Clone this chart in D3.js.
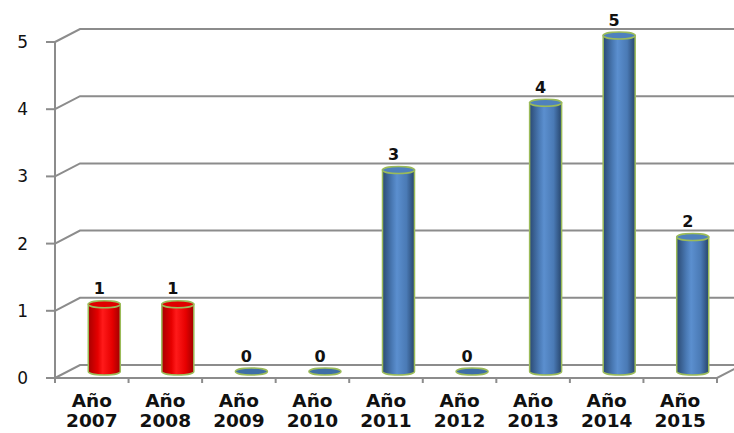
<!DOCTYPE html>
<html>
<head>
<meta charset="utf-8">
<script src="https://cdn.jsdelivr.net/npm/d3@7"></script>
<style>
  body { margin: 0; background: #fff; }
  .chart text { font-family: "DejaVu Sans", Verdana, sans-serif; }
</style>
</head>
<body>
<div class="chart"></div>
<script>
// datos
const anios = ["2007", "2008", "2009", "2010", "2011", "2012", "2013", "2014", "2015"];
const valores = [1, 1, 0, 0, 3, 0, 4, 5, 2];
const colores = ["rojo", "rojo", "azul", "azul", "azul", "azul", "azul", "azul", "azul"];
const ticksY = [0, 1, 2, 3, 4, 5];

const width = 734, height = 433;
const depthX = 25, depthY = -13;   // profundidad del efecto 3d
const rx = 16, ry = 3.5;

const svg = d3.select(".chart")
    .append("svg")
    .attr("width", width)
    .attr("height", height);

const x = d3.scaleBand().domain(anios).range([55, 717]).padding(0);
const y = d3.scaleLinear().domain([0, 5]).range([378, 42]);

// gradientes
const defs = svg.append("defs");
const grads = {
    azul: ["#2b4a73", "#4a7ab5", "#5b8fcf", "#4a7ab5", "#27456c"],
    rojo: ["#a80000", "#e60000", "#ff1a1a", "#e60000", "#a00000"]
};
Object.keys(grads).forEach(k => {
    const g = defs.append("linearGradient").attr("id", "g-" + k)
        .attr("x1", "0%").attr("x2", "100%").attr("y1", "0%").attr("y2", "0%");
    const offs = [0, 0.3, 0.45, 0.75, 1];
    grads[k].forEach((c, i) => g.append("stop").attr("offset", offs[i]).attr("stop-color", c));
});
const topFill = { azul: "#4f81bd", rojo: "#e00000" };

const gridColor = "#8c8c8c";

// rejilla del fondo
const grid = svg.append("g");
ticksY.forEach(t => {
    const yy = y(t);
    grid.append("path")
        .attr("d", `M55,${yy} L${55 + depthX},${yy + depthY} L${width + 10},${yy + depthY}`)
        .attr("fill", "none")
        .attr("stroke", gridColor)
        .attr("stroke-width", 2);
});

// suelo frontal y borde derecho
svg.append("path")
    .attr("d", `M55,${y(0)} L717,${y(0)} L${717 + depthX},${y(0) + depthY}`)
    .attr("fill", "none")
    .attr("stroke", gridColor)
    .attr("stroke-width", 2);

// eje vertical
svg.append("line")
    .attr("x1", 55).attr("x2", 55)
    .attr("y1", y(5)).attr("y2", y(0) + 5)
    .attr("stroke", gridColor).attr("stroke-width", 2);

svg.selectAll(".ytick").data(ticksY).enter()
    .append("line")
    .attr("x1", 46).attr("x2", 55)
    .attr("y1", d => y(d)).attr("y2", d => y(d))
    .attr("stroke", gridColor).attr("stroke-width", 2);

svg.selectAll(".ylab").data(ticksY).enter()
    .append("text")
    .attr("x", 28)
    .attr("y", d => y(d) + 6)
    .attr("text-anchor", "end")
    .attr("font-size", 17)
    .attr("fill", "#111")
    .text(d => d);

// ticks del eje x
const bordes = anios.map(a => x(a)).concat([717]);
svg.selectAll(".xtick").data(bordes.slice(1)).enter()
    .append("line")
    .attr("x1", d => d).attr("x2", d => d)
    .attr("y1", y(0)).attr("y2", y(0) + 5)
    .attr("stroke", gridColor).attr("stroke-width", 2);

// etiquetas x
const xl = svg.selectAll(".xlab").data(anios).enter()
    .append("text")
    .attr("text-anchor", "middle")
    .attr("font-size", 18.5)
    .attr("font-weight", "bold")
    .attr("fill", "#111");
xl.append("tspan")
    .attr("x", d => x(d) + x.bandwidth() / 2)
    .attr("y", 407)
    .text("Año");
xl.append("tspan")
    .attr("x", d => x(d) + x.bandwidth() / 2)
    .attr("y", 427)
    .text(d => d);

// cilindros
const base = y(0) + depthY / 2;
const datos = anios.map((a, i) => ({ anio: a, v: valores[i], c: colores[i] }));

const barras = svg.selectAll(".el").data(datos).enter()
    .append("g")
    .attr("class", "el")
    .attr("transform", d => `translate(${x(d.anio) + x.bandwidth() / 2 + depthX / 2},0)`);

barras.filter(d => d.v > 0).append("path")
    .attr("d", d => {
        const top = y(d.v) + depthY / 2;
        return `M${-rx},${top} L${-rx},${base} A${rx},${ry} 0 0 0 ${rx},${base} L${rx},${top} Z`;
    })
    .attr("fill", d => `url(#g-${d.c})`)
    .attr("stroke", "#9bbb59")
    .attr("stroke-width", 1.5);

barras.append("ellipse")
    .attr("cx", 0)
    .attr("cy", d => y(d.v) + depthY / 2)
    .attr("rx", rx)
    .attr("ry", ry)
    .attr("fill", d => d.v > 0 ? topFill[d.c] : "#3f6fa6")
    .attr("stroke", "#9bbb59")
    .attr("stroke-width", 1.5);

barras.append("text")
    .attr("x", -5)
    .attr("y", d => y(d.v) + depthY / 2 - 10)
    .attr("text-anchor", "middle")
    .attr("font-size", 16)
    .attr("font-weight", "bold")
    .attr("fill", "#111")
    .text(d => d.v);
</script>
</body>
</html>
